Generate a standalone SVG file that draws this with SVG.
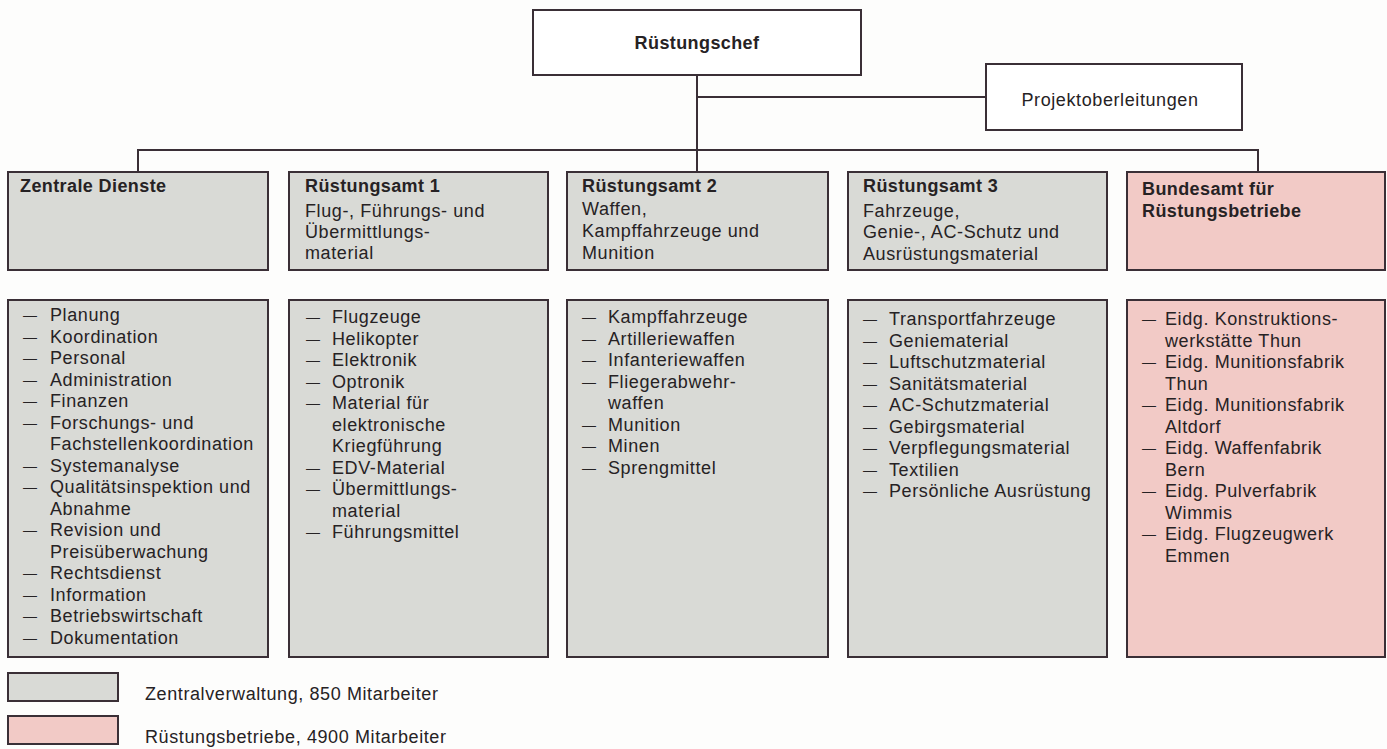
<svg xmlns="http://www.w3.org/2000/svg" width="1387" height="749" viewBox="0 0 1387 749">
<style>
.box{stroke:#3a2f36;stroke-width:2}
.wh{fill:#ffffff}
.gr{fill:#d9dad6}
.pk{fill:#f2cac6}
.ln{stroke:#3a2f36;stroke-width:2;fill:none}
text{font-family:"Liberation Sans",Arial,sans-serif;font-size:18px;fill:#262224;letter-spacing:0.6px}
.b{font-weight:bold;letter-spacing:0.4px}
.d{font-size:14px;letter-spacing:0}
</style>
<rect x="0" y="0" width="1387" height="749" fill="#fdfdfc"/>
<g id="connectors">
<path class="ln" d="M697 76 V172"/>
<path class="ln" d="M697 97 H986"/>
<path class="ln" d="M138 172 V150 H1258 V172"/>
</g>
<g id="ruestungschef">
<rect class="box wh" x="533" y="10" width="328" height="65"/>
<text class="b" x="697" y="49" text-anchor="middle">Rüstungschef</text>
</g>
<g id="projektoberleitungen">
<rect class="box wh" x="986" y="64" width="256" height="66"/>
<text x="1110" y="106" text-anchor="middle">Projektoberleitungen</text>
</g>
<g id="zentrale-dienste">
<rect class="box gr" x="8" y="172" width="260" height="98"/>
<text class="b" x="20" y="192">Zentrale Dienste</text>
</g>
<g id="ruestungsamt1">
<rect class="box gr" x="289" y="172" width="259" height="98"/>
<text class="b" x="305" y="192">Rüstungsamt 1</text>
<text x="305" y="217">Flug-, Führungs- und</text>
<text x="305" y="238">Übermittlungs-</text>
<text x="305" y="259">material</text>
</g>
<g id="ruestungsamt2">
<rect class="box gr" x="567" y="172" width="261" height="98"/>
<text class="b" x="582" y="192">Rüstungsamt 2</text>
<text x="582" y="215">Waffen,</text>
<text x="582" y="237">Kampffahrzeuge und</text>
<text x="582" y="259">Munition</text>
</g>
<g id="ruestungsamt3">
<rect class="box gr" x="848" y="172" width="259" height="98"/>
<text class="b" x="863" y="192">Rüstungsamt 3</text>
<text x="863" y="217">Fahrzeuge,</text>
<text x="863" y="238">Genie-, AC-Schutz und</text>
<text x="863" y="260">Ausrüstungsmaterial</text>
</g>
<g id="bundesamt">
<rect class="box pk" x="1127" y="172" width="258" height="98"/>
<text class="b" x="1142" y="195">Bundesamt für</text>
<text class="b" x="1142" y="217">Rüstungsbetriebe</text>
</g>
<g id="list-zentrale-dienste">
<rect class="box gr" x="8" y="300" width="260" height="357"/>
<text class="d" x="23" y="320">—</text><text x="50" y="321">Planung</text>
<text class="d" x="23" y="341.5">—</text><text x="50" y="342.5">Koordination</text>
<text class="d" x="23" y="363">—</text><text x="50" y="364">Personal</text>
<text class="d" x="23" y="384.5">—</text><text x="50" y="385.5">Administration</text>
<text class="d" x="23" y="406">—</text><text x="50" y="407">Finanzen</text>
<text class="d" x="23" y="427.5">—</text><text x="50" y="428.5">Forschungs- und</text>
<text x="50" y="450">Fachstellenkoordination</text>
<text class="d" x="23" y="470.5">—</text><text x="50" y="471.5">Systemanalyse</text>
<text class="d" x="23" y="492">—</text><text x="50" y="493">Qualitätsinspektion und</text>
<text x="50" y="514.5">Abnahme</text>
<text class="d" x="23" y="535">—</text><text x="50" y="536">Revision und</text>
<text x="50" y="557.5">Preisüberwachung</text>
<text class="d" x="23" y="578">—</text><text x="50" y="579">Rechtsdienst</text>
<text class="d" x="23" y="599.5">—</text><text x="50" y="600.5">Information</text>
<text class="d" x="23" y="621">—</text><text x="50" y="622">Betriebswirtschaft</text>
<text class="d" x="23" y="642.5">—</text><text x="50" y="643.5">Dokumentation</text>
</g>
<g id="list-ruestungsamt1">
<rect class="box gr" x="289" y="300" width="259" height="357"/>
<text class="d" x="306" y="322">—</text><text x="332" y="323">Flugzeuge</text>
<text class="d" x="306" y="343.5">—</text><text x="332" y="344.5">Helikopter</text>
<text class="d" x="306" y="365">—</text><text x="332" y="366">Elektronik</text>
<text class="d" x="306" y="386.5">—</text><text x="332" y="387.5">Optronik</text>
<text class="d" x="306" y="408">—</text><text x="332" y="409">Material für</text>
<text x="332" y="430.5">elektronische</text>
<text x="332" y="452">Kriegführung</text>
<text class="d" x="306" y="472.5">—</text><text x="332" y="473.5">EDV-Material</text>
<text class="d" x="306" y="494">—</text><text x="332" y="495">Übermittlungs-</text>
<text x="332" y="516.5">material</text>
<text class="d" x="306" y="537">—</text><text x="332" y="538">Führungsmittel</text>
</g>
<g id="list-ruestungsamt2">
<rect class="box gr" x="567" y="300" width="261" height="357"/>
<text class="d" x="582" y="322">—</text><text x="608" y="323">Kampffahrzeuge</text>
<text class="d" x="582" y="343.5">—</text><text x="608" y="344.5">Artilleriewaffen</text>
<text class="d" x="582" y="365">—</text><text x="608" y="366">Infanteriewaffen</text>
<text class="d" x="582" y="386.5">—</text><text x="608" y="387.5">Fliegerabwehr-</text>
<text x="608" y="409">waffen</text>
<text class="d" x="582" y="429.5">—</text><text x="608" y="430.5">Munition</text>
<text class="d" x="582" y="451">—</text><text x="608" y="452">Minen</text>
<text class="d" x="582" y="472.5">—</text><text x="608" y="473.5">Sprengmittel</text>
</g>
<g id="list-ruestungsamt3">
<rect class="box gr" x="848" y="300" width="259" height="357"/>
<text class="d" x="863" y="324">—</text><text x="889" y="325">Transportfahrzeuge</text>
<text class="d" x="863" y="345.5">—</text><text x="889" y="346.5">Geniematerial</text>
<text class="d" x="863" y="367">—</text><text x="889" y="368">Luftschutzmaterial</text>
<text class="d" x="863" y="388.5">—</text><text x="889" y="389.5">Sanitätsmaterial</text>
<text class="d" x="863" y="410">—</text><text x="889" y="411">AC-Schutzmaterial</text>
<text class="d" x="863" y="431.5">—</text><text x="889" y="432.5">Gebirgsmaterial</text>
<text class="d" x="863" y="453">—</text><text x="889" y="454">Verpflegungsmaterial</text>
<text class="d" x="863" y="474.5">—</text><text x="889" y="475.5">Textilien</text>
<text class="d" x="863" y="496">—</text><text x="889" y="497">Persönliche Ausrüstung</text>
</g>
<g id="list-bundesamt">
<rect class="box pk" x="1127" y="300" width="258" height="357"/>
<text class="d" x="1142" y="324">—</text><text x="1165" y="325">Eidg. Konstruktions-</text>
<text x="1165" y="346.5">werkstätte Thun</text>
<text class="d" x="1142" y="367">—</text><text x="1165" y="368">Eidg. Munitionsfabrik</text>
<text x="1165" y="389.5">Thun</text>
<text class="d" x="1142" y="410">—</text><text x="1165" y="411">Eidg. Munitionsfabrik</text>
<text x="1165" y="432.5">Altdorf</text>
<text class="d" x="1142" y="453">—</text><text x="1165" y="454">Eidg. Waffenfabrik</text>
<text x="1165" y="475.5">Bern</text>
<text class="d" x="1142" y="496">—</text><text x="1165" y="497">Eidg. Pulverfabrik</text>
<text x="1165" y="518.5">Wimmis</text>
<text class="d" x="1142" y="539">—</text><text x="1165" y="540">Eidg. Flugzeugwerk</text>
<text x="1165" y="561.5">Emmen</text>
</g>
<g id="legend">
<rect class="box gr" x="8" y="673" width="110" height="28"/>
<text x="145" y="700">Zentralverwaltung, 850 Mitarbeiter</text>
<rect class="box pk" x="8" y="716" width="110" height="28"/>
<text x="145" y="743">Rüstungsbetriebe, 4900 Mitarbeiter</text>
</g>
</svg>
